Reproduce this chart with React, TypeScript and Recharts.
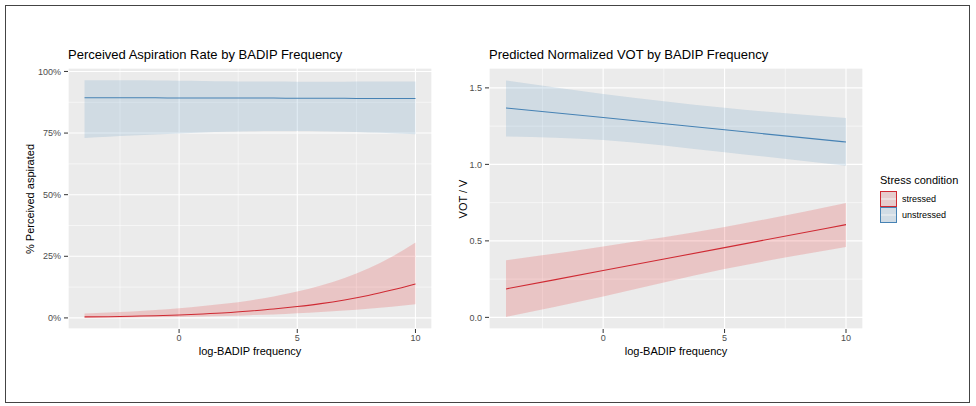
import React from 'react';
import { ComposedChart, Area, Line, XAxis, YAxis, CartesianGrid } from 'recharts';

// log-BADIP frequency sample points
const LEFT_X = [-4, -3, -2, -1, 0, 1, 2, 3, 4, 5, 6, 7, 8, 9, 10];
// % perceived aspirated, stressed
const ASP_STRESSED_FIT = [0.4, 0.5, 0.7, 0.9, 1.2, 1.6, 2.1, 2.8, 3.6, 4.6, 5.8, 7.3, 9.1, 11.3, 13.8];
const ASP_STRESSED_LO = [0.1, 0.1, 0.2, 0.3, 0.4, 0.6, 0.8, 1.1, 1.4, 1.9, 2.4, 3.0, 3.7, 4.5, 5.5];
const ASP_STRESSED_HI = [1.8, 2.2, 2.6, 3.2, 3.9, 4.8, 5.8, 7.1, 8.7, 10.7, 13.1, 16.2, 20.0, 24.8, 30.6];
// % perceived aspirated, unstressed
const ASP_UNSTRESSED_FIT = [89.3, 89.3, 89.3, 89.3, 89.2, 89.2, 89.2, 89.2, 89.2, 89.1, 89.1, 89.1, 89.0, 89.0, 89.0];
const ASP_UNSTRESSED_LO = [73.0, 73.5, 74.0, 74.4, 74.8, 75.2, 75.5, 75.7, 75.8, 75.8, 75.7, 75.5, 75.2, 74.9, 74.5];
const ASP_UNSTRESSED_HI = [96.4, 96.4, 96.4, 96.3, 96.2, 96.1, 96.0, 95.9, 95.9, 95.8, 95.8, 95.8, 95.9, 95.9, 95.9];

const RIGHT_X = [-4, 0, 5, 10];
// VOT / V, stressed
const VOT_STRESSED_FIT = [0.186, 0.306, 0.456, 0.606];
const VOT_STRESSED_LO = [0.003, 0.137, 0.316, 0.46];
const VOT_STRESSED_HI = [0.373, 0.464, 0.591, 0.748];
// VOT / V, unstressed
const VOT_UNSTRESSED_FIT = [1.369, 1.306, 1.226, 1.146];
const VOT_UNSTRESSED_LO = [1.183, 1.16, 1.08, 0.991];
const VOT_UNSTRESSED_HI = [1.549, 1.46, 1.37, 1.303];

const X_TICKS = [0, 5, 10];
const X_MINOR = [-2.5, 2.5, 7.5];
const PCT_TICKS = [0, 25, 50, 75, 100];
const PCT_MINOR = [12.5, 37.5, 62.5, 87.5];
const VOT_TICKS = [0, 0.5, 1, 1.5];
const VOT_MINOR = [0.25, 0.75, 1.25];

const LEGEND = ['stressed', 'unstressed'];

const RED = '#CF2A33';
const RED_FILL = '#E41A1C';
const BLUE = '#4682B4';
const BLUE_FILL = '#377EB8';
const FONT = '"Liberation Sans", Arial, sans-serif';

const leftData = LEFT_X.map((x, i) => ({
  x,
  sFit: ASP_STRESSED_FIT[i],
  sBand: [ASP_STRESSED_LO[i], ASP_STRESSED_HI[i]],
  uFit: ASP_UNSTRESSED_FIT[i],
  uBand: [ASP_UNSTRESSED_LO[i], ASP_UNSTRESSED_HI[i]],
}));

const rightData = RIGHT_X.map((x, i) => ({
  x,
  sFit: VOT_STRESSED_FIT[i],
  sBand: [VOT_STRESSED_LO[i], VOT_STRESSED_HI[i]],
  uFit: VOT_UNSTRESSED_FIT[i],
  uBand: [VOT_UNSTRESSED_LO[i], VOT_UNSTRESSED_HI[i]],
}));

const tickStyle = { fontSize: 9, fill: '#4D4D4D', fontFamily: FONT };

const Panel: React.FC<{
  data: any[];
  width: number;
  yWidth: number;
  right: number;
  yDomain: [number, number];
  yTicks: number[];
  yMinor: number[];
  fmt: (v: number) => string;
}> = ({ data, width, yWidth, right, yDomain, yTicks, yMinor, fmt }) => (
  <ComposedChart
    width={width}
    height={406}
    data={data}
    margin={{ top: 68, right, bottom: 47, left: 0 }}
  >
    <XAxis
      dataKey="x"
      type="number"
      domain={[-4.7, 10.7]}
      ticks={X_TICKS}
      allowDataOverflow
      axisLine={false}
      tickSize={4}
      tickMargin={2}
      tickLine={{ stroke: '#333333' }}
      tick={tickStyle}
      height={30}
    />
    <XAxis xAxisId="minor" dataKey="x" type="number" domain={[-4.7, 10.7]} ticks={X_MINOR} allowDataOverflow hide />
    <YAxis
      type="number"
      domain={yDomain}
      ticks={yTicks}
      allowDataOverflow
      axisLine={false}
      tickSize={4}
      tickMargin={3}
      tickLine={{ stroke: '#333333' }}
      tick={tickStyle}
      tickFormatter={fmt}
      width={yWidth}
    />
    <YAxis yAxisId="minor" type="number" domain={yDomain} ticks={yMinor} allowDataOverflow hide />
    <CartesianGrid xAxisId="minor" yAxisId="minor" fill="#EBEBEB" fillOpacity={1} stroke="#FFFFFF" strokeWidth={0.55} />
    <CartesianGrid stroke="#FFFFFF" strokeWidth={1.1} />
    <Area type="monotone" dataKey="uBand" fill={BLUE_FILL} fillOpacity={0.15} stroke="none" isAnimationActive={false} />
    <Area type="monotone" dataKey="sBand" fill={RED_FILL} fillOpacity={0.18} stroke="none" isAnimationActive={false} />
    <Line type="monotone" dataKey="uFit" stroke={BLUE} strokeWidth={1.1} dot={false} isAnimationActive={false} />
    <Line type="monotone" dataKey="sFit" stroke={RED} strokeWidth={1.1} dot={false} isAnimationActive={false} />
  </ComposedChart>
);

const abs = (left: number, top: number, extra: React.CSSProperties = {}): React.CSSProperties => ({
  position: 'absolute',
  left,
  top,
  fontFamily: FONT,
  whiteSpace: 'nowrap',
  ...extra,
});

const App: React.FC = () => (
  <div style={{ position: 'absolute', left: 0, top: 0, width: 976, height: 406, background: '#fff' }}>
    <div style={abs(5, 5, { width: 965, height: 398, border: '1px solid #444', boxSizing: 'border-box' })} />
    <div style={abs(0, 0)}>
      <Panel
        data={leftData}
        width={440}
        yWidth={68}
        right={8}
        yDomain={[-4.5, 101.4]}
        yTicks={PCT_TICKS}
        yMinor={PCT_MINOR}
        fmt={(v) => `${v}%`}
      />
    </div>
    <div style={abs(440, 0)}>
      <Panel
        data={rightData}
        width={430}
        yWidth={49}
        right={7}
        yDomain={[-0.076, 1.63]}
        yTicks={VOT_TICKS}
        yMinor={VOT_MINOR}
        fmt={(v) => v.toFixed(1)}
      />
    </div>

    <div style={abs(68, 47, { fontSize: 13 })}>Perceived Aspiration Rate by BADIP Frequency</div>
    <div style={abs(489, 47, { fontSize: 13 })}>Predicted Normalized VOT by BADIP Frequency</div>

    <div style={abs(250, 345, { fontSize: 11, transform: 'translateX(-50%)' })}>log-BADIP frequency</div>
    <div style={abs(676, 345, { fontSize: 11, transform: 'translateX(-50%)' })}>log-BADIP frequency</div>

    <div style={abs(30, 199, { fontSize: 11, transform: 'translate(-50%, -50%) rotate(-90deg)' })}>
      % Perceived aspirated
    </div>
    <div style={abs(463, 199, { fontSize: 11, transform: 'translate(-50%, -50%) rotate(-90deg)' })}>VOT / V</div>

    <div style={abs(880, 174, { fontSize: 11 })}>Stress condition</div>
    {LEGEND.map((name, i) => {
      const color = i === 0 ? RED : BLUE;
      const bg = i === 0 ? '#E6CCCD' : '#D1DCE5';
      return (
        <div key={name} style={abs(880, 191 + i * 16, { display: 'flex', alignItems: 'center' })}>
          <svg width={17} height={16}>
            <rect x={0.5} y={0.5} width={16} height={15} fill={bg} stroke={color} strokeWidth={1} />
            <line x1={1} x2={16} y1={8} y2={8} stroke="#F2F2F2" strokeWidth={1} />
          </svg>
          <span style={{ fontSize: 9, marginLeft: 5, color: '#000' }}>{name}</span>
        </div>
      );
    })}
  </div>
);

export default App;
